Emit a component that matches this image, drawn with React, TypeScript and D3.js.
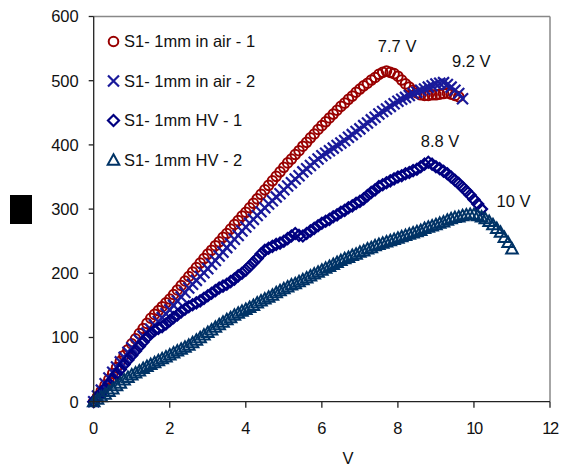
import React from "react";
import * as d3 from "d3";

const STEP = 0.1;
const airOne = [0,8,17,26,35,44,53,63,72,81,90,98,106,114,122,130,136,142,148,154,160,167,174,181,188,195,202,209,216,223,230,236,243,249,256,262,269,276,282,289,295,302,309,316,323,330,337,344,351,358,365,372,378,385,391,398,404,411,417,424,430,436,442,448,454,460,465,471,476,482,487,492,496,501,505,510,513,515,513,511,507,501,495,490,485,481,478,477,477,478,478,479,480,481,479,477,475];
const airTwo = [0,9,18,28,37,46,54,62,69,77,84,90,96,102,107,113,119,125,131,137,143,150,157,163,170,177,183,189,195,201,207,214,220,227,233,240,246,253,259,266,272,278,284,290,296,302,308,313,319,324,330,336,341,347,352,358,363,368,373,378,383,387,391,395,399,403,407,412,416,421,425,430,434,439,443,448,452,456,460,464,468,471,474,477,480,482,485,487,490,492,495,496,497,494,490,485,480,472];
const hvOne = [0,7,14,21,28,35,43,50,58,65,72,79,86,93,100,106,111,114,117,121,126,131,135,140,144,148,151,154,157,161,165,169,173,177,180,183,187,191,196,200,205,211,217,223,230,236,239,242,245,247,250,254,258,262,259,258,262,266,270,274,278,281,284,288,291,295,298,302,305,309,312,316,321,326,330,335,338,341,344,347,350,352,355,357,360,362,366,370,373,370,366,363,359,355,350,345,340,334,328,322,315,308,300];
const hvTwo = [0,4,8,12,16,20,25,29,34,38,42,45,48,52,55,58,61,64,67,70,73,76,79,82,85,88,92,96,100,104,108,112,116,120,124,128,131,135,138,141,144,147,150,154,157,160,163,166,170,173,176,179,182,184,187,190,193,196,199,202,205,208,211,214,217,220,223,225,228,230,233,235,238,240,243,245,247,249,251,253,255,257,259,261,263,265,267,270,272,274,276,278,280,283,285,287,288,290,291,292,292,290,288,285,281,276,270,264,256,248,238];

const seriesNames = ["S1- 1mm in air - 1", "S1- 1mm in air - 2", "S1- 1mm HV - 1", "S1- 1mm HV - 2"];
const seriesColors = ["#990000", "#1a1a9a", "#000080", "#003366"];
const seriesShapes = ["circle", "x", "diamond", "triangle"];
const seriesValues = [airOne, airTwo, hvOne, hvTwo];

const xTicks = [0, 2, 4, 6, 8, 10, 12];
const yTicks = [0, 100, 200, 300, 400, 500, 600];
const annotations = [
  { text: "7.7 V", v: 7.98, y: 544 },
  { text: "9.2 V", v: 9.93, y: 521 },
  { text: "8.8 V", v: 9.11, y: 396 },
  { text: "10 V", v: 11.04, y: 303 },
];

const W = 561, H = 475;
const L = 93.7, R = 550, T = 16.5, B = 401.7;

function Marker({ shape, x, y, color }: { shape: string; x: number; y: number; color: string }) {
  if (shape === "circle") return <circle cx={x} cy={y} r={4.8} fill="none" stroke={color} strokeWidth={2} />;
  if (shape === "x") {
    const s = 5.5;
    return <path d={`M${x - s},${y - s}L${x + s},${y + s}M${x - s},${y + s}L${x + s},${y - s}`} stroke={color} strokeWidth={2.2} fill="none" />;
  }
  if (shape === "diamond") {
    const s = 5.5;
    return <path d={`M${x},${y - s}L${x + s},${y}L${x},${y + s}L${x - s},${y}Z`} stroke={color} strokeWidth={2.2} fill="none" />;
  }
  const s = 5.8;
  return <path d={`M${x},${y - s}L${x + s},${y + s * 0.8}L${x - s},${y + s * 0.8}Z`} stroke={color} strokeWidth={2} fill="none" />;
}

export default function App() {
  const x = d3.scaleLinear().domain([0, 12]).range([L, R]);
  const y = d3.scaleLinear().domain([0, 600]).range([B, T]);
  const font = "'Liberation Sans', Arial, sans-serif";
  return (
    <svg width={W} height={H} style={{ position: "absolute", left: 0, top: 0, background: "#fff" }} fontFamily={font}>
      <rect x={0} y={0} width={W} height={H} fill="#fff" />
      <line x1={L} x2={R} y1={T} y2={T} stroke="#888" strokeWidth={1.5} />
      <line x1={R} x2={R} y1={T} y2={B} stroke="#888" strokeWidth={1.5} />
      {seriesValues.map((vals, si) => (
        <g key={si}>
          {vals.map((v, i) => (
            <Marker key={i} shape={seriesShapes[si]} x={x(i * STEP)} y={y(v)} color={seriesColors[si]} />
          ))}
        </g>
      ))}
      <line x1={L} x2={L} y1={T} y2={B} stroke="#222" strokeWidth={1.3} />
      <line x1={L} x2={R} y1={B} y2={B} stroke="#222" strokeWidth={1.3} />
      {yTicks.map((t) => (
        <g key={"y" + t}>
          <line x1={L - 5} x2={L} y1={y(t)} y2={y(t)} stroke="#222" strokeWidth={1.3} />
          <text x={L - 15} y={y(t)} dy="0.36em" textAnchor="end" fontSize={16.5} fill="#111">{t}</text>
        </g>
      ))}
      {xTicks.map((t) => (
        <g key={"x" + t}>
          <line x1={x(t)} x2={x(t)} y1={B} y2={B + 6} stroke="#222" strokeWidth={1.3} />
          <text x={x(t)} y={434} textAnchor="middle" fontSize={16.5} fill="#111" letterSpacing={t >= 10 ? -1.5 : 0}>{t}</text>
        </g>
      ))}
      <text x={348} y={464} textAnchor="middle" fontSize={16.5} fill="#111">V</text>
      <rect x={10} y={195} width={22} height={29} fill="#000" />
      {seriesNames.map((n, i) => (
        <g key={n}>
          <Marker shape={seriesShapes[i]} x={113.5} y={41.5 + i * 39.5} color={seriesColors[i]} />
          <text x={124} y={41.5 + i * 39.5} dy="0.36em" fontSize={16.5} fill="#111">{n}</text>
        </g>
      ))}
      {annotations.map((a) => (
        <text key={a.text} x={x(a.v)} y={y(a.y)} textAnchor="middle" fontSize={16.5} fill="#111">{a.text}</text>
      ))}
    </svg>
  );
}
